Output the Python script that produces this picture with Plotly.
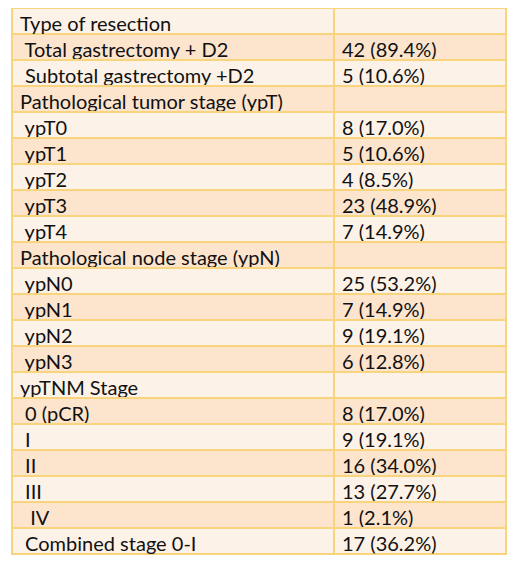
import plotly.graph_objects as go

# Table content (leading spaces give the sub-row indent)
labels = [
    "Type of resection",
    " Total gastrectomy + D2",
    " Subtotal gastrectomy +D2",
    "Pathological tumor stage (ypT)",
    " ypT0",
    " ypT1",
    " ypT2",
    " ypT3",
    " ypT4",
    "Pathological node stage (ypN)",
    " ypN0",
    " ypN1",
    " ypN2",
    " ypN3",
    "ypTNM Stage",
    " 0 (pCR)",
    " I",
    " II",
    " III",
    "  IV",
    " Combined stage 0-I",
]
counts = ["", "42", "5", "", "8", "5", "4", "23", "7", "", "25", "7", "9", "6",
          "", "8", "9", "16", "13", "1", "17"]
percents = ["", "89.4", "10.6", "", "17.0", "10.6", "8.5", "48.9", "14.9", "",
            "53.2", "14.9", "19.1", "12.8", "", "17.0", "19.1", "34.0", "27.7",
            "2.1", "36.2"]

values = [f"{c} ({p}%)" if c else "" for c, p in zip(counts, percents)]
labels = [s.replace(" ", "\u00a0") for s in labels]

light = "#FDF2E7"
dark = "#FCE4CD"
border = "#F8D57D"

# first row acts as header, body rows alternate starting with the darker shade
body_fill = [dark if i % 2 == 0 else light for i in range(len(labels) - 1)]

fnt = dict(family="Lato", size=20, color="#111111")

# page body has an 8px margin, so the domain is shifted left by that much
fig = go.Figure(go.Table(
    columnwidth=[322, 172],
    domain=dict(x=[4 / 520, 498 / 520], y=[0, 1]),
    header=dict(
        values=[labels[0], values[0]],
        fill_color=light,
        line=dict(color=border, width=1.5),
        align="left",
        font=fnt,
        height=26,
    ),
    cells=dict(
        values=[labels[1:], values[1:]],
        fill_color=[body_fill, body_fill],
        line=dict(color=border, width=1.5),
        align="left",
        font=fnt,
        height=26,
    ),
))

fig.update_layout(
    width=520,
    height=561,
    margin=dict(l=0, r=0, t=0, b=0),
    paper_bgcolor="white",
)

fig.write_html("out.html")
